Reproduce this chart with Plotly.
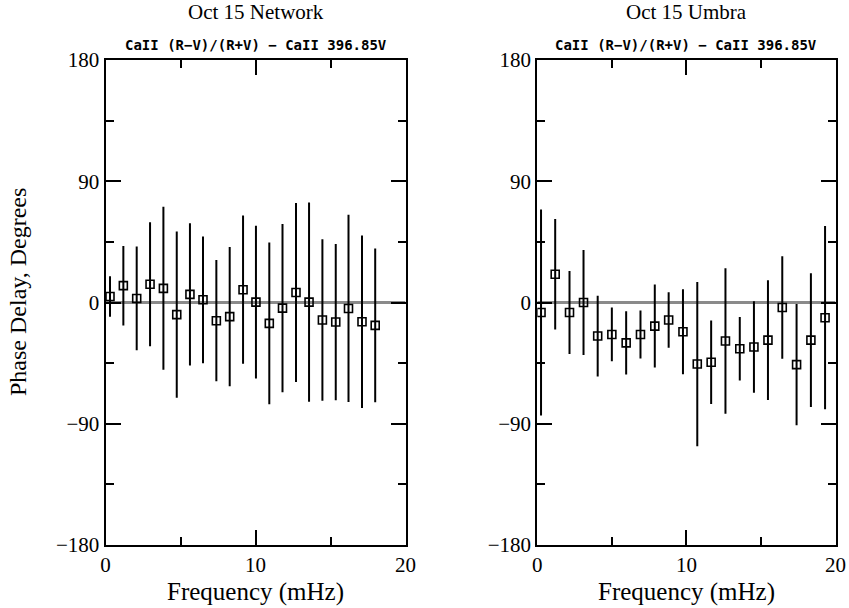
import plotly.graph_objects as go

# Left panel: Oct 15 Network
net_freq = [0.3, 1.19, 2.08, 2.97, 3.86, 4.75, 5.63, 6.5, 7.39, 8.28, 9.17,
            10.03, 10.92, 11.8, 12.7, 13.57, 14.46, 15.35, 16.2, 17.1, 17.98]
net_phase = [4.5, 12.5, 3, 13.5, 10.5, -9, 6, 2, -13.5, -10.5, 9.5,
             0.3, -15.5, -4.2, 7.4, 0.3, -13, -14.5, -4.4, -14.3, -17]
net_err = [15, 29.5, 38.5, 46, 60.5, 61.7, 52.8, 47, 45, 51.7, 55,
           56.7, 60, 62.5, 66.5, 74, 60, 58, 69.5, 64, 57]

# Right panel: Oct 15 Umbra
umb_freq = [0.25, 1.2, 2.16, 3.1, 4.05, 5.0, 5.96, 6.92, 7.88, 8.81, 9.77,
            10.73, 11.66, 12.62, 13.58, 14.53, 15.47, 16.43, 17.39, 18.35, 19.3]
umb_phase = [-7.4, 21, -7.4, 0, -24.9, -23.7, -30, -23.7, -17.5, -13, -21.7,
             -45.7, -44.4, -28.6, -34.3, -33, -27.9, -3.7, -46.1, -27.9, -11.3]
umb_err = [76.5, 41, 30.8, 39, 30, 20, 23.5, 17.8, 30.8, 20.6, 31.6,
           61, 31, 54, 23.6, 34, 44.5, 38, 45, 49.7, 68]

titles = ["Oct 15 Network", "Oct 15 Umbra"]
subtitle = "CaII (R\u2212V)/(R+V) \u2212 CaII 396.85V"
x_title = "Frequency (mHz)"
y_title = "Phase Delay, Degrees"
y_ticks = [-180, -90, 0, 90, 180]
x_ticks = [0, 10, 20]

W, H = 849, 608
dom_left = [105.5 / W, 405.5 / W]
dom_right = [537.3 / W, 835.5 / W]
dom_y = [1 - 545 / H, 1 - 60 / H]

fig = go.Figure()
for i, (f, p, e) in enumerate([(net_freq, net_phase, net_err),
                                (umb_freq, umb_phase, umb_err)]):
    xa = "x" if i == 0 else "x2"
    ya = "y" if i == 0 else "y2"
    # zero reference line
    fig.add_trace(go.Scatter(x=[0, 20], y=[0, 0], mode="lines",
                             line=dict(color="#8a8a8a", width=3),
                             xaxis=xa, yaxis=ya, showlegend=False,
                             hoverinfo="skip"))
    fig.add_trace(go.Scatter(
        x=f, y=p, mode="markers",
        marker=dict(symbol="square-open", size=8, color="black",
                    line=dict(width=1.6, color="black")),
        error_y=dict(type="data", array=e, visible=True, width=0,
                     thickness=2, color="black"),
        xaxis=xa, yaxis=ya, showlegend=False))

font_serif = "Liberation Serif, DejaVu Serif, serif"
axis_common = dict(showline=True, linecolor="black", linewidth=2,
                   mirror="allticks", ticks="inside", ticklen=15,
                   tickwidth=1.5, tickcolor="black", showgrid=False,
                   zeroline=False, automargin=False,
                   tickfont=dict(family=font_serif, size=21, color="black"))

xaxis_common = dict(axis_common, range=[0, 20], tickvals=x_ticks,
                    minor=dict(tickvals=[5, 15], ticklen=8, tickwidth=1.5,
                               ticks="inside", tickcolor="black"))
yaxis_common = dict(axis_common, range=[-180, 180], tickvals=y_ticks,
                    minor=dict(tickvals=[-135, -45, 45, 135], ticklen=8,
                               tickwidth=1.5, ticks="inside",
                               tickcolor="black"))

fig.update_layout(
    width=W, height=H,
    margin=dict(l=0, r=0, t=0, b=0),
    paper_bgcolor="white", plot_bgcolor="white",
    xaxis=dict(xaxis_common, domain=dom_left, anchor="y"),
    xaxis2=dict(xaxis_common, domain=dom_right, anchor="y2"),
    yaxis=dict(yaxis_common, domain=dom_y, anchor="x"),
    yaxis2=dict(yaxis_common, domain=dom_y, anchor="x2"),
)

centers = [(dom_left[0] + dom_left[1]) / 2, (dom_right[0] + dom_right[1]) / 2]
for c, t in zip(centers, titles):
    fig.add_annotation(text=t, x=c, y=1 - 12 / H, xref="paper", yref="paper",
                       showarrow=False, xanchor="center", yanchor="middle",
                       font=dict(family=font_serif, size=21, color="black"))
    fig.add_annotation(text="<b>" + subtitle + "</b>", x=c, y=1 - 45 / H,
                       xref="paper", yref="paper", showarrow=False,
                       xanchor="center", yanchor="middle",
                       font=dict(family="DejaVu Sans Mono, monospace", size=14,
                                 color="black"))
    fig.add_annotation(text=x_title, x=c, y=1 - 592 / H, xref="paper",
                       yref="paper", showarrow=False, xanchor="center",
                       yanchor="middle",
                       font=dict(family=font_serif, size=25, color="black"))

fig.add_annotation(text=y_title, x=18 / W, y=1 - 292 / H, xref="paper",
                   yref="paper", showarrow=False, textangle=-90,
                   xanchor="center", yanchor="middle",
                   font=dict(family=font_serif, size=24, color="black"))

fig.write_html("out.html",
               config={"displayModeBar": False},
               post_script="document.body.style.margin='0';"
                           "document.body.style.padding='0';")
